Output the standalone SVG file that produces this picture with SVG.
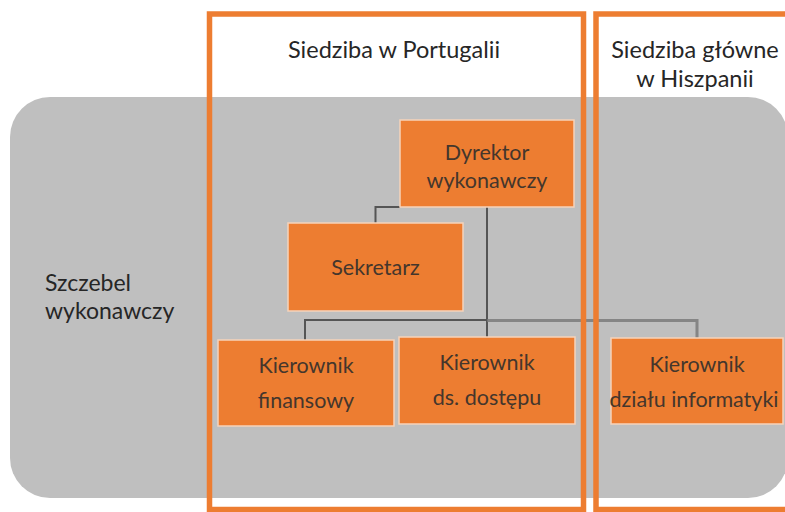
<svg xmlns="http://www.w3.org/2000/svg" width="785" height="512" viewBox="0 0 785 512">
<style>
.bg{fill:#bfbfbf}
.frame{fill:none;stroke:#ed7d31;stroke-width:5.5}
.node rect{fill:#ed7d31;stroke:#f6d3bb;stroke-width:1.5}
.node text,.lbl{font-family:Lato,"Open Sans",sans-serif;text-anchor:middle}
.node text{font-size:21.5px;fill:#44362c}
.lbl{font-size:23.5px;fill:#262626}
.side{font-family:Lato,"Open Sans",sans-serif;font-size:23px;fill:#262626}
.conn{fill:none;stroke:#555;stroke-width:2}
.conn2{fill:none;stroke:#777;stroke-width:3;stroke-opacity:0.8}
</style>
<rect width="785" height="512" fill="#fff"/>
<rect id="band" class="bg" x="10" y="97" width="778" height="401" rx="40" ry="40"/>
<text class="side" x="45" y="291">Szczebel</text>
<text class="side" x="45" y="319">wykonawczy</text>
<g id="connectors">
<polyline class="conn" points="400,207 375.5,207 375.5,223"/>
<polyline class="conn" points="487,207 487,320 305,320 305,340"/>
<polyline class="conn" points="487,320 487,337"/>
<polyline class="conn2" points="487,320.5 697,320.5 697,338"/>
</g>
<g id="dyrektor" class="node"><rect x="400" y="120" width="174" height="87"/><text x="487" y="160">Dyrektor</text><text x="487" y="188">wykonawczy</text></g>
<g id="sekretarz" class="node"><rect x="288" y="223" width="175" height="88"/><text x="375.5" y="275">Sekretarz</text></g>
<g id="finansowy" class="node"><rect x="218" y="340" width="176" height="86"/><text x="306" y="373">Kierownik</text><text x="306" y="408">finansowy</text></g>
<g id="dostepu" class="node"><rect x="399" y="337" width="176" height="87"/><text x="487" y="370">Kierownik</text><text x="487" y="405">ds. dostępu</text></g>
<g id="informatyki" class="node"><rect x="611" y="338" width="172" height="86"/><text x="697" y="372">Kierownik</text><text x="694" y="407">działu informatyki</text></g>
<g id="portugalia"><rect class="frame" x="209.5" y="14" width="374" height="495.5"/><text class="lbl" x="394" y="58">Siedziba w Portugalii</text></g>
<g id="hiszpania"><rect class="frame" x="596" y="14" width="200" height="495.5"/><text class="lbl" x="695" y="58">Siedziba główne</text><text class="lbl" x="695" y="87">w Hiszpanii</text></g>
</svg>
